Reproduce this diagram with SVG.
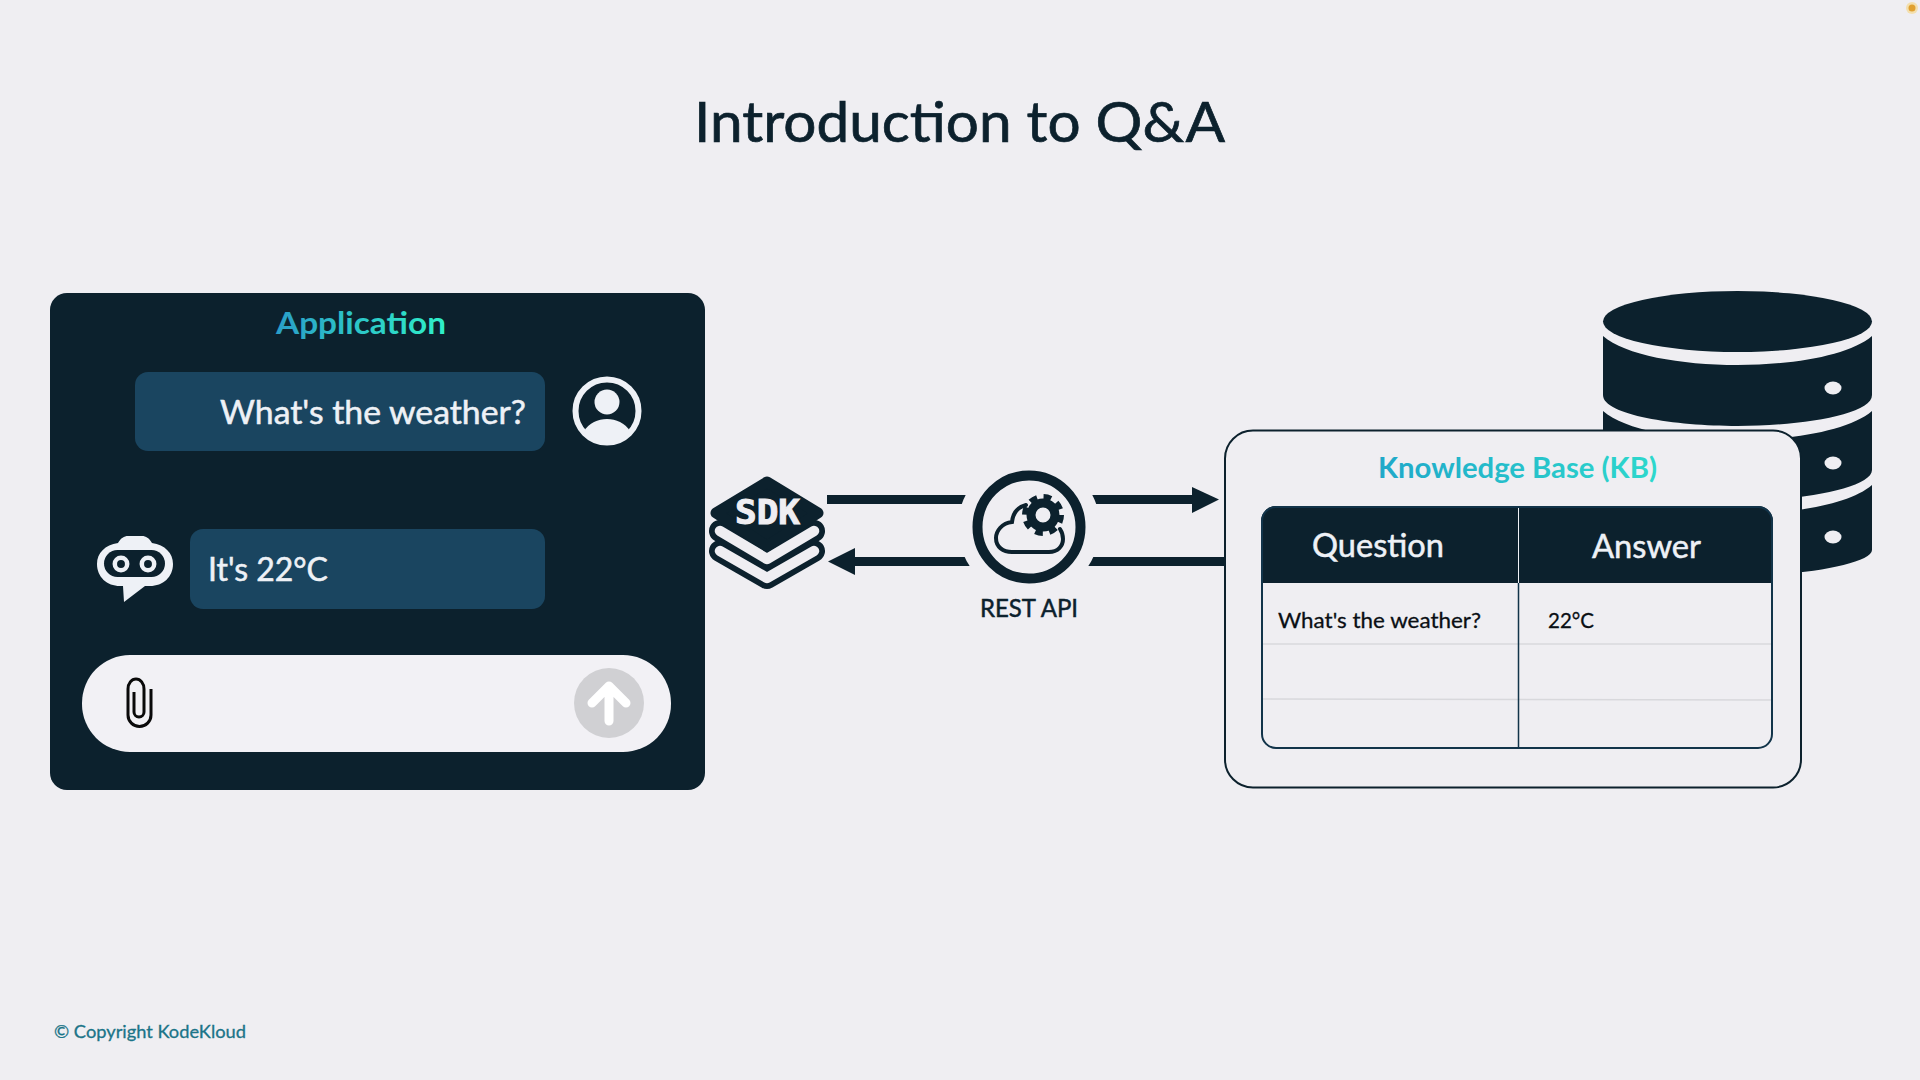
<svg xmlns="http://www.w3.org/2000/svg" width="1920" height="1080" viewBox="0 0 1920 1080">
<style>
text{font-family:"Lato","Liberation Sans",sans-serif}
.lt{fill:#eef1f6}
.dk{fill:#0c212d}
.tx{stroke-width:.5}
.lt.tx{stroke:#eef1f6}
.dk.tx{stroke:#0c212d}
.conn{stroke:#0c212d;stroke-width:9;fill:none}
.head{fill:#0c212d}
.bub{fill:#1a4560}
.row{stroke:#d8d8dc;stroke-width:1.5}
</style>
<defs>
<linearGradient id="gApp" gradientUnits="userSpaceOnUse" x1="276" y1="0" x2="446" y2="0"><stop offset="0" stop-color="#2a9ec8"/><stop offset="1" stop-color="#2ff0c8"/></linearGradient>
<linearGradient id="gKb" gradientUnits="userSpaceOnUse" x1="1378" y1="0" x2="1657" y2="0"><stop offset="0" stop-color="#1fa8c9"/><stop offset="1" stop-color="#2dd8cc"/></linearGradient>
<clipPath id="tbl"><rect x="1261" y="506" width="512" height="243" rx="15"/></clipPath>
</defs>
<rect width="1920" height="1080" fill="#efeef2"/>
<g id="corner-dot"><circle cx="1912" cy="8" r="6" fill="#f3dfae"/><circle cx="1912" cy="8" r="3.5" fill="#e0a030"/></g>
<text id="title" class="dk tx" x="694" y="142" font-size="57" style="stroke-width:.7" textLength="531" lengthAdjust="spacingAndGlyphs">Introduction to Q&amp;A</text>

<g id="connectors">
<line class="conn" x1="827" y1="499.5" x2="1195" y2="499.5"/>
<polygon class="head" points="1192,487 1219,499.5 1192,513"/>
<line class="conn" x1="1226" y1="561.5" x2="852" y2="561.5"/>
<polygon class="head" points="855,548 828,561.5 855,575"/>
</g>

<g id="application">
<rect x="50" y="293" width="655" height="497" rx="17" class="dk"/>
<text x="276" y="334" font-size="31" font-weight="700" fill="url(#gApp)" textLength="170" lengthAdjust="spacingAndGlyphs">Application</text>
<rect class="bub" x="135" y="372" width="410" height="79" rx="13"/>
<text class="lt tx" x="220" y="424" font-size="32" textLength="306" lengthAdjust="spacingAndGlyphs">What's the weather?</text>
<g id="user-icon">
<circle cx="607" cy="411" r="31.5" fill="none" stroke="#eef1f6" stroke-width="6"/>
<circle cx="607" cy="402" r="12.5" class="lt"/>
<path class="lt" d="M584,431C589,423 598,419 607,419C616,419 625,423 630,431A31,31 0 0 1 584,431Z"/>
</g>
<g id="bot-icon">
<path class="lt" d="M118,543C121,538 124,536 128,536H142C146,536 149,538 152,543C165,545 173,553 173,564C173,577 163,586 150,586H145L124,602L123,586H120C107,586 97,577 97,564C97,553 105,545 118,543Z"/>
<rect x="104" y="550" width="61" height="27" rx="13.5" class="dk"/>
<circle cx="121" cy="564" r="6.2" fill="none" stroke="#eef1f6" stroke-width="4.5"/>
<circle cx="148" cy="564" r="6.2" fill="none" stroke="#eef1f6" stroke-width="4.5"/>
</g>
<rect class="bub" x="190" y="529" width="355" height="80" rx="13"/>
<text class="lt tx" x="208" y="581" font-size="32" textLength="120" lengthAdjust="spacingAndGlyphs">It's 22°C</text>
<g id="input-bar">
<rect x="82" y="655" width="589" height="97" rx="48" fill="#f2f1f5"/>
<path d="M151,689V715A11.5,11.5 0 0 1 128,715V689A8,10 0 0 1 144,689V712A5,5 0 0 1 134,712V692" fill="none" stroke="#0a0a0a" stroke-width="3"/>
<circle cx="609" cy="703" r="35" fill="#d0d0d3"/>
<path d="M609,721V687M592,703L609,686L626,703" fill="none" stroke="#fff" stroke-width="9" stroke-linecap="round" stroke-linejoin="round"/>
</g>
</g>

<g id="sdk">
<polyline points="720,551 767,578 814,551" fill="none" stroke="#0c212d" stroke-width="22" stroke-linecap="round" stroke-linejoin="round"/>
<polyline points="720,531 767,559 814,531" fill="none" stroke="#0c212d" stroke-width="22" stroke-linecap="round" stroke-linejoin="round"/>
<polyline points="720,551 767,578 814,551" fill="none" stroke="#efeef2" stroke-width="10.5" stroke-linecap="round" stroke-linejoin="round"/>
<polyline points="720,531 767,559 814,531" fill="none" stroke="#efeef2" stroke-width="10.5" stroke-linecap="round" stroke-linejoin="round"/>
<polygon points="767,482 818,513 767,546 716,513" class="dk" stroke="#0c212d" stroke-width="11" stroke-linejoin="round"/>
<text x="735" y="524" font-size="33" font-weight="700" fill="#efeef2" stroke="#efeef2" stroke-width="1" textLength="65" lengthAdjust="spacingAndGlyphs" style="font-family:'DejaVu Sans Mono',monospace">SDK</text>
</g>

<g id="rest-api">
<circle cx="1029" cy="527" r="71" fill="#efeef2"/>
<circle cx="1029" cy="527" r="51.5" fill="none" stroke="#0c212d" stroke-width="10"/>
<path d="M1026,505C1018,507 1013,513 1012,522C1002,523 996,531 996,538C996,547 1003,552 1012,552H1049C1058,552 1063,546 1063,539C1063,535 1062,532 1060,529" fill="none" stroke="#0c212d" stroke-width="4" stroke-linecap="round"/>
<circle cx="1043" cy="515" r="12" fill="none" stroke="#0c212d" stroke-width="9"/>
<circle cx="1043" cy="515" r="18" fill="none" stroke="#0c212d" stroke-width="6" stroke-dasharray="7.6 6.54"/>
<text class="dk tx" x="980" y="617" font-size="25" textLength="98" lengthAdjust="spacingAndGlyphs">REST API</text>
</g>

<g id="database">
<ellipse cx="1737.5" cy="321.5" rx="134.5" ry="30.5" class="dk"/>
<path class="dk" d="M1603,336C1625,355 1680,365 1737.5,365C1795,365 1850,355 1872,336V395C1872,415 1800,426 1737.5,426C1675,426 1603,415 1603,395Z"/>
<path class="dk" d="M1603,411C1625,430 1680,440 1737.5,440C1795,440 1850,430 1872,411V470C1872,488 1800,501 1737.5,501C1675,501 1603,488 1603,470Z"/>
<path class="dk" d="M1603,485C1625,504 1680,514 1737.5,514C1795,514 1850,504 1872,485V550C1872,564 1800,576 1737.5,576C1675,576 1603,564 1603,550Z"/>
<ellipse cx="1833" cy="388" rx="8.5" ry="6.5" fill="#efeef2"/>
<ellipse cx="1833" cy="463" rx="8.5" ry="6.5" fill="#efeef2"/>
<ellipse cx="1833" cy="537" rx="8.5" ry="6.5" fill="#efeef2"/>
</g>

<g id="knowledge-base">
<rect x="1225" y="430.5" width="576" height="357" rx="28" fill="#efeef2" stroke="#0c212d" stroke-width="2"/>
<text x="1378" y="478" font-size="29" font-weight="700" fill="url(#gKb)" textLength="279" lengthAdjust="spacingAndGlyphs">Knowledge Base (KB)</text>
<g clip-path="url(#tbl)">
<rect x="1261" y="506" width="512" height="77" class="dk"/>
<line class="row" x1="1262" y1="644" x2="1773" y2="644"/>
<line class="row" x1="1262" y1="699" x2="1773" y2="700"/>
<line x1="1518.5" y1="506" x2="1518.5" y2="583" stroke="#eef1f6" stroke-width="1"/>
<line x1="1518.5" y1="583" x2="1518.5" y2="748" stroke="#12344a" stroke-width="1.5"/>
</g>
<rect x="1262" y="507" width="510" height="241" rx="14" fill="none" stroke="#12344a" stroke-width="2"/>
<text class="lt tx" x="1312" y="557" font-size="32" textLength="132" lengthAdjust="spacingAndGlyphs">Question</text>
<text class="lt tx" x="1592" y="558" font-size="32" textLength="109" lengthAdjust="spacingAndGlyphs">Answer</text>
<text x="1278" y="628" font-size="22" fill="#0a0f14" stroke="#0a0f14" stroke-width=".3" textLength="203" lengthAdjust="spacingAndGlyphs">What's the weather?</text>
<text x="1548" y="628" font-size="22" fill="#0a0f14" stroke="#0a0f14" stroke-width=".3" textLength="46" lengthAdjust="spacingAndGlyphs">22°C</text>
</g>

<text id="copyright" x="54" y="1038" font-size="18" fill="#1b7488" stroke="#1b7488" stroke-width=".3" textLength="192" lengthAdjust="spacingAndGlyphs">© Copyright KodeKloud</text>
</svg>
